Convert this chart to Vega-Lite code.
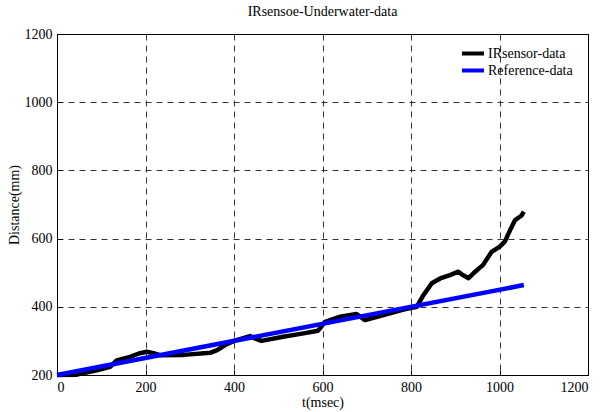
{
  "$schema": "https://vega.github.io/schema/vega-lite/v6.json",
  "width": 531,
  "height": 341,
  "autosize": {"type": "none"},
  "padding": {"left": 57, "top": 34, "right": 18, "bottom": 37},
  "background": "white",
  "title": {"text": "IRsensoe-Underwater-data", "font": "Liberation Serif", "fontSize": 14, "fontWeight": "normal", "color": "black", "offset": 8},
  "config": {
    "view": {"stroke": "black", "strokeWidth": 1},
    "axis": {
      "labelFont": "Liberation Serif", "labelFontSize": 14, "labelColor": "black",
      "titleFont": "Liberation Serif", "titleFontSize": 14, "titleFontWeight": "normal", "titleColor": "black",
      "domainColor": "black", "tickColor": "black", "tickSize": -5,
      "gridColor": "black", "gridDash": [6, 5], "gridOpacity": 1, "gridWidth": 0.8
    }
  },
  "data": {"values": [
    {"t": 0, "d": 200, "s": "IRsensor-data"},
    {"t": 45, "d": 201, "s": "IRsensor-data"},
    {"t": 90, "d": 214, "s": "IRsensor-data"},
    {"t": 120, "d": 224, "s": "IRsensor-data"},
    {"t": 135, "d": 243, "s": "IRsensor-data"},
    {"t": 165, "d": 253, "s": "IRsensor-data"},
    {"t": 185, "d": 263, "s": "IRsensor-data"},
    {"t": 203, "d": 268, "s": "IRsensor-data"},
    {"t": 218, "d": 264, "s": "IRsensor-data"},
    {"t": 233, "d": 258, "s": "IRsensor-data"},
    {"t": 286, "d": 259, "s": "IRsensor-data"},
    {"t": 346, "d": 265, "s": "IRsensor-data"},
    {"t": 362, "d": 273, "s": "IRsensor-data"},
    {"t": 380, "d": 288, "s": "IRsensor-data"},
    {"t": 400, "d": 300, "s": "IRsensor-data"},
    {"t": 436, "d": 314, "s": "IRsensor-data"},
    {"t": 450, "d": 306, "s": "IRsensor-data"},
    {"t": 462, "d": 300, "s": "IRsensor-data"},
    {"t": 511, "d": 312, "s": "IRsensor-data"},
    {"t": 557, "d": 322, "s": "IRsensor-data"},
    {"t": 590, "d": 330, "s": "IRsensor-data"},
    {"t": 606, "d": 356, "s": "IRsensor-data"},
    {"t": 640, "d": 371, "s": "IRsensor-data"},
    {"t": 677, "d": 379, "s": "IRsensor-data"},
    {"t": 696, "d": 361, "s": "IRsensor-data"},
    {"t": 738, "d": 376, "s": "IRsensor-data"},
    {"t": 783, "d": 392, "s": "IRsensor-data"},
    {"t": 813, "d": 400, "s": "IRsensor-data"},
    {"t": 828, "d": 434, "s": "IRsensor-data"},
    {"t": 847, "d": 469, "s": "IRsensor-data"},
    {"t": 866, "d": 483, "s": "IRsensor-data"},
    {"t": 888, "d": 493, "s": "IRsensor-data"},
    {"t": 907, "d": 503, "s": "IRsensor-data"},
    {"t": 917, "d": 493, "s": "IRsensor-data"},
    {"t": 930, "d": 484, "s": "IRsensor-data"},
    {"t": 945, "d": 503, "s": "IRsensor-data"},
    {"t": 963, "d": 523, "s": "IRsensor-data"},
    {"t": 982, "d": 561, "s": "IRsensor-data"},
    {"t": 1000, "d": 576, "s": "IRsensor-data"},
    {"t": 1012, "d": 591, "s": "IRsensor-data"},
    {"t": 1024, "d": 625, "s": "IRsensor-data"},
    {"t": 1035, "d": 654, "s": "IRsensor-data"},
    {"t": 1046, "d": 664, "s": "IRsensor-data"},
    {"t": 1050, "d": 668, "s": "IRsensor-data"},
    {"t": 1055, "d": 679, "s": "IRsensor-data"},
    {"t": 0, "d": 200, "s": "Reference-data"},
    {"t": 1055, "d": 463.75, "s": "Reference-data"}
  ]},
  "mark": {"type": "line", "strokeWidth": 4.5, "strokeJoin": "round", "strokeCap": "butt"},
  "encoding": {
    "x": {"field": "t", "type": "quantitative", "title": "t(msec)",
      "scale": {"domain": [0, 1200], "nice": false, "zero": false},
      "axis": {"values": [0, 200, 400, 600, 800, 1000, 1200], "format": "d", "labelPadding": 10, "titlePadding": 1,
        "labelFont": "Liberation Serif", "titleFont": "Liberation Serif"}},
    "y": {"field": "d", "type": "quantitative", "title": "Distance(mm)",
      "scale": {"domain": [200, 1200], "nice": false, "zero": false},
      "axis": {"values": [200, 400, 600, 800, 1000, 1200], "format": "d", "labelPadding": 10, "titlePadding": 3,
        "labelFont": "Liberation Serif", "titleFont": "Liberation Serif"}},
    "color": {"field": "s", "type": "nominal", "title": null,
      "scale": {"domain": ["IRsensor-data", "Reference-data"], "range": ["#000000", "#0000ff"]},
      "legend": {"orient": "none", "legendX": 403, "legendY": 12, "symbolType": "stroke", "symbolSize": 484, "symbolStrokeWidth": 4,
        "clipHeight": 15, "labelFont": "Liberation Serif", "labelFontSize": 14, "labelColor": "black", "rowPadding": 2, "labelOffset": 2}},
    "order": {"field": "t", "type": "quantitative"}
  }
}
